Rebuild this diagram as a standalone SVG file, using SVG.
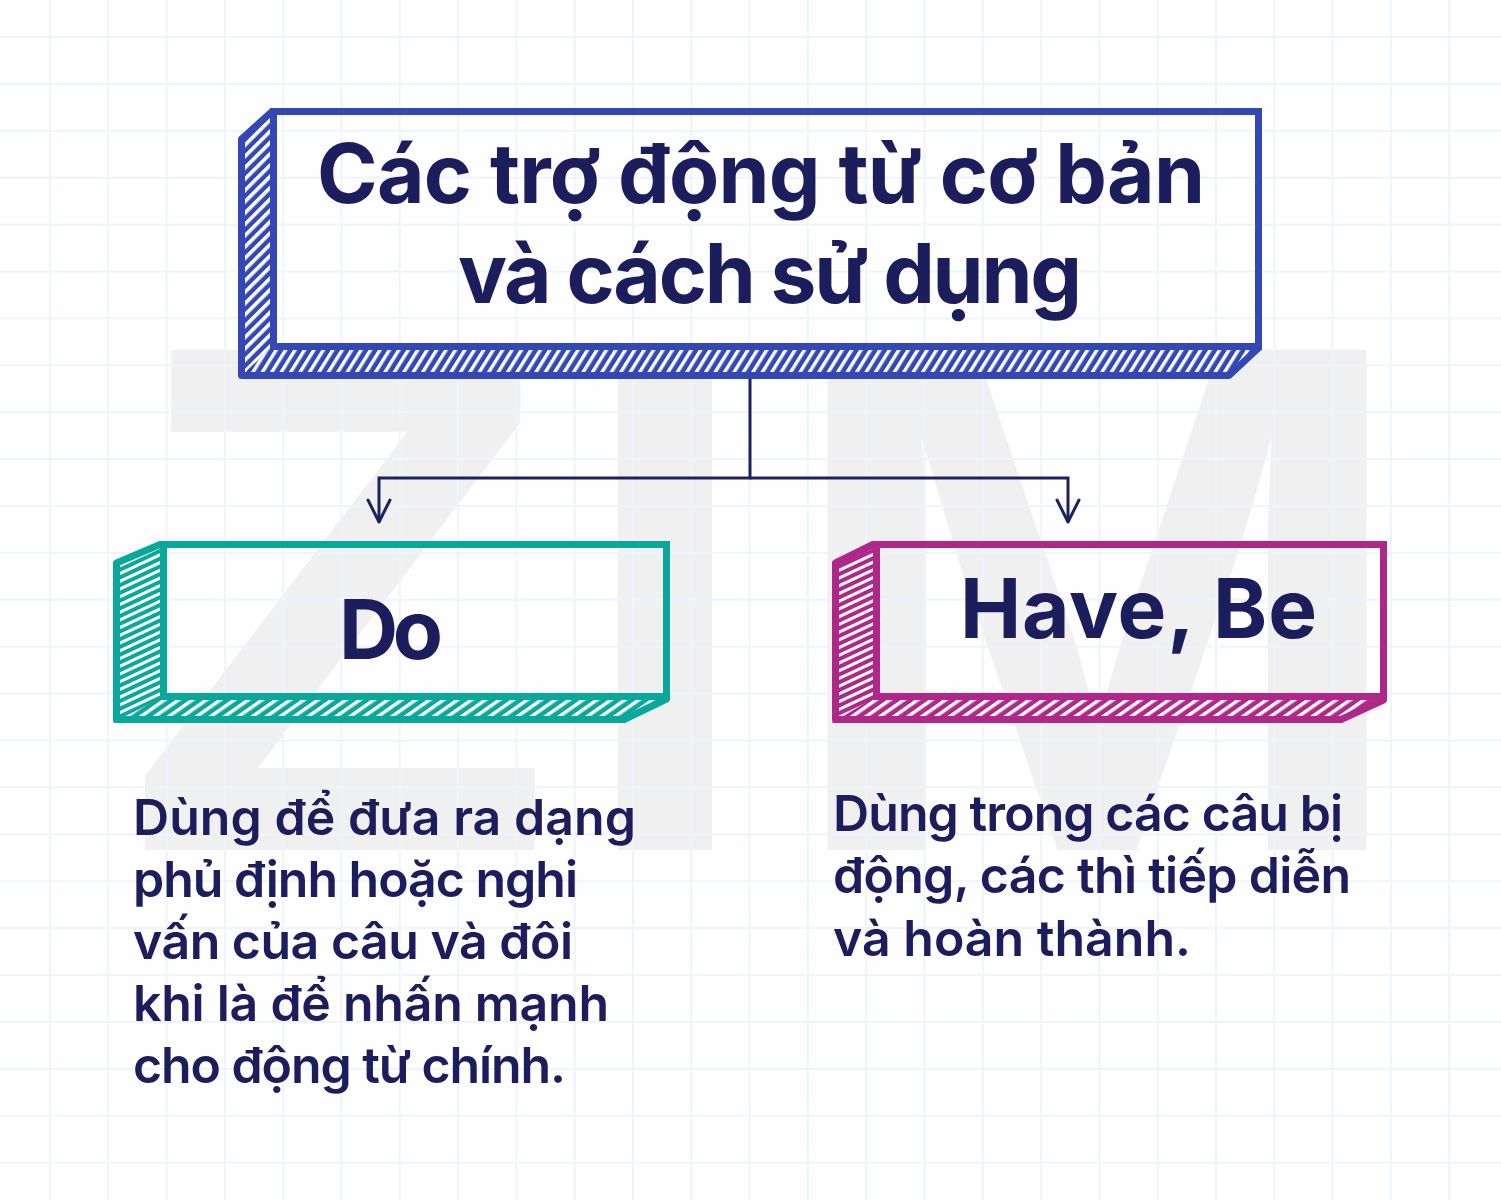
<svg xmlns="http://www.w3.org/2000/svg" width="1501" height="1200" viewBox="0 0 1501 1200">
<defs>
<style>
.wm{font-family:"Liberation Sans",Arial,sans-serif;font-weight:700;font-size:727px;fill:#f0f0f0}
.t{font-family:Inter,"Noto Sans",sans-serif;font-weight:600;fill:#1b1d5c}
.title{font-size:82px;font-weight:700}
.body{font-size:50px}
.conn{fill:none;stroke:#1e2160;stroke-width:3}
</style>
<pattern id="grid" patternUnits="userSpaceOnUse" x="49" y="36" width="58.3" height="46.9">
<path d="M1,0V46.9M0,1H58.3" stroke="#eef4fa" stroke-width="2" fill="none"/>
</pattern>
<pattern id="hbL" patternUnits="userSpaceOnUse" width="8" height="8" patternTransform="rotate(-45)">
<rect width="8" height="8" fill="#3348b5"/><rect y="2" width="8" height="3.6" fill="#fff"/>
</pattern>
<pattern id="hbB" patternUnits="userSpaceOnUse" width="8" height="8" patternTransform="rotate(-58)">
<rect width="8" height="8" fill="#3348b5"/><rect y="2" width="8" height="3.4" fill="#fff"/>
</pattern>
<pattern id="htL" patternUnits="userSpaceOnUse" width="7" height="7" patternTransform="rotate(-25)">
<rect width="7" height="7" fill="#0aa89b"/><rect y="2" width="7" height="3" fill="#fff"/>
</pattern>
<pattern id="htB" patternUnits="userSpaceOnUse" width="8" height="8" patternTransform="rotate(-35)">
<rect width="8" height="8" fill="#0aa89b"/><rect y="2" width="8" height="3.4" fill="#fff"/>
</pattern>
<pattern id="hmL" patternUnits="userSpaceOnUse" width="7" height="7" patternTransform="rotate(-25)">
<rect width="7" height="7" fill="#b0278a"/><rect y="2" width="7" height="3" fill="#fff"/>
</pattern>
<pattern id="hmB" patternUnits="userSpaceOnUse" width="8" height="8" patternTransform="rotate(-35)">
<rect width="8" height="8" fill="#b0278a"/><rect y="2" width="8" height="3.4" fill="#fff"/>
</pattern>
<marker id="arr" markerUnits="userSpaceOnUse" markerWidth="40" markerHeight="40" viewBox="-30 -20 40 40" refX="0" refY="0" orient="auto" overflow="visible">
<path d="M-22,-11L0,0L-22,11" fill="none" stroke="#1e2160" stroke-width="3" stroke-linecap="round" stroke-linejoin="round"/>
</marker>
</defs>
<rect width="1501" height="1200" fill="#fefefe"/>
<g id="watermark">
<text class="wm" transform="translate(124,850) scale(0.97,1)">Z</text>
<text class="wm" transform="translate(574,850) scale(0.9,1)">I</text>
<text class="wm" transform="translate(776,850) scale(1.06,1)">M</text>
</g>
<rect width="1501" height="1200" fill="url(#grid)"/>

<g id="connectors">
<path class="conn" d="M750,379V478H379V522" marker-end="url(#arr)"/>
<path class="conn" d="M750,478H1068V522" marker-end="url(#arr)"/>
</g>

<g id="node-title">
<polygon points="238,138 272,108 272,350 238,379" fill="url(#hbL)"/>
<polygon points="238,379 272,347 1262,347 1230,379" fill="url(#hbB)"/>
<polygon points="241.5,139 272,111.5 1258.5,111.5 1258.5,348 1229,375.5 241.5,375.5" fill="none" stroke="#3348b5" stroke-width="7" stroke-linejoin="round"/>
<rect x="273.5" y="111.5" width="985" height="235" fill="none" stroke="#3348b5" stroke-width="7"/>
<text class="t title" x="317" y="203" textLength="888" lengthAdjust="spacing">Các trợ động từ cơ bản</text>
<text class="t title" x="458" y="303" textLength="624" lengthAdjust="spacing">và cách sử dụng</text>
</g>

<g id="node-do">
<polygon points="113,562 162,541 162,700 113,723" fill="url(#htL)"/>
<polygon points="113,723 162,697 670,697 625,723" fill="url(#htB)"/>
<polygon points="116.5,563 160,544.5 666.5,544.5 666.5,699 624,719.5 116.5,719.5" fill="none" stroke="#0aa89b" stroke-width="7" stroke-linejoin="round"/>
<rect x="163.5" y="544.5" width="503" height="152" fill="none" stroke="#0aa89b" stroke-width="7"/>
<text class="t title" x="339" y="659" textLength="104" lengthAdjust="spacing">Do</text>
</g>

<g id="node-havebe">
<polygon points="832,562 875,541 875,700 832,723" fill="url(#hmL)"/>
<polygon points="832,723 875,697 1387,697 1342,723" fill="url(#hmB)"/>
<polygon points="835.5,563 873,544.5 1383.5,544.5 1383.5,700 1341,719.5 835.5,719.5" fill="none" stroke="#b0278a" stroke-width="7" stroke-linejoin="round"/>
<rect x="876.5" y="544.5" width="507" height="152" fill="none" stroke="#b0278a" stroke-width="7"/>
<text class="t title" x="960" y="638" textLength="357" lengthAdjust="spacing">Have, Be</text>
</g>

<g id="text-do">
<text class="t body" x="133" y="835" textLength="503" lengthAdjust="spacing">Dùng để đưa ra dạng</text>
<text class="t body" x="133" y="897" textLength="445" lengthAdjust="spacing">phủ định hoặc nghi</text>
<text class="t body" x="133" y="959" textLength="440" lengthAdjust="spacing">vấn của câu và đôi</text>
<text class="t body" x="133" y="1021" textLength="476" lengthAdjust="spacing">khi là để nhấn mạnh</text>
<text class="t body" x="133" y="1083" textLength="433" lengthAdjust="spacing">cho động từ chính.</text>
</g>

<g id="text-havebe">
<text class="t body" x="833" y="831" textLength="510" lengthAdjust="spacing">Dùng trong các câu bị</text>
<text class="t body" x="833" y="893" textLength="518" lengthAdjust="spacing">động, các thì tiếp diễn</text>
<text class="t body" x="833" y="956" textLength="358" lengthAdjust="spacing">và hoàn thành.</text>
</g>
</svg>
